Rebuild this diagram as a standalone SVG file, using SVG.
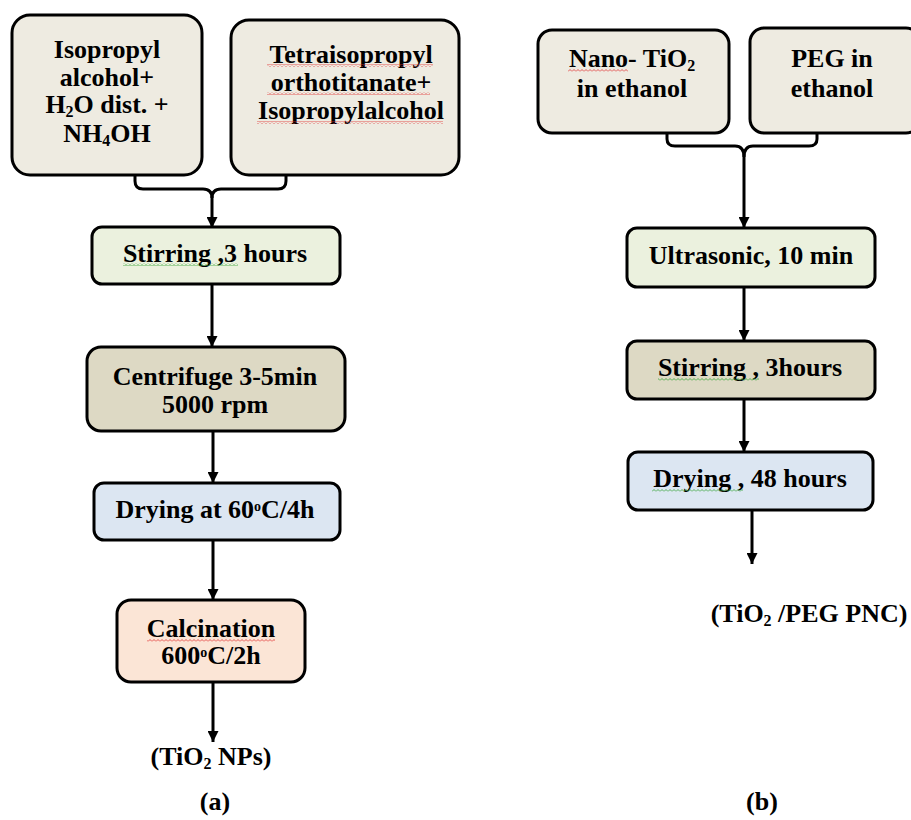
<svg xmlns="http://www.w3.org/2000/svg" width="911" height="820" viewBox="0 0 911 820">
<defs>
<style>
.box{stroke:#000;stroke-width:3}
.src{fill:#eeebe1}
.grn{fill:#ebf1de}
.tan{fill:#ddd9c4}
.blu{fill:#dce6f2}
.pch{fill:#fbe5d6}
text{font-family:"Liberation Serif","Times New Roman",serif;font-weight:bold;font-size:26px;fill:#000;text-anchor:middle}
.sub{font-size:16px}
.sup{font-size:14px}
.con{fill:none;stroke:#000;stroke-width:3}
</style>
<marker id="ah" viewBox="0 0 10 10" refX="10" refY="5" markerWidth="11" markerHeight="11" markerUnits="userSpaceOnUse" orient="auto">
<path d="M0,0 L10,5 L0,10 z" fill="#000"/>
</marker>
<pattern id="wr" width="4" height="3" patternUnits="userSpaceOnUse">
<path d="M0,2.5 L2,0.5 L4,2.5" fill="none" stroke="#e03030" stroke-width="0.8"/>
</pattern>
<pattern id="wg" width="4" height="3" patternUnits="userSpaceOnUse">
<path d="M0,2.5 L2,0.5 L4,2.5" fill="none" stroke="#30a030" stroke-width="0.8"/>
</pattern>
</defs>
<rect width="911" height="820" fill="#fff"/>

<g id="connectors">
<path class="con" d="M135,175 V181 Q135,189 143,189 H203 Q212,189 212,198"/>
<path class="con" d="M286,175 V181 Q286,189 278,189 H221 Q212,189 212,198"/>
<path class="con" d="M212,198 V228" marker-end="url(#ah)"/>
<path class="con" d="M212,284 V347" marker-end="url(#ah)"/>
<path class="con" d="M213,431 V483" marker-end="url(#ah)"/>
<path class="con" d="M213,540 V600" marker-end="url(#ah)"/>
<path class="con" d="M213,682 V742" marker-end="url(#ah)"/>
<path class="con" d="M667,133 V139 Q667,146 675,146 H735 Q744,146 744,157"/>
<path class="con" d="M817,133 V139 Q817,146 809,146 H753 Q744,146 744,157"/>
<path class="con" d="M744,157 V228" marker-end="url(#ah)"/>
<path class="con" d="M744,287 V341" marker-end="url(#ah)"/>
<path class="con" d="M744,399 V452" marker-end="url(#ah)"/>
<path class="con" d="M752,510 V564" marker-end="url(#ah)"/>
</g>

<g id="a-src1">
<rect class="box src" x="12" y="15" width="190" height="160" rx="18"/>
<text x="107" y="58">Isopropyl</text>
<text x="107" y="86">alcohol+</text>
<text x="107" y="113">H<tspan class="sub" dy="4">2</tspan><tspan dy="-4">O dist. +</tspan></text>
<text x="107" y="142">NH<tspan class="sub" dy="4">4</tspan><tspan dy="-4">OH</tspan></text>
</g>

<g id="a-src2">
<rect class="box src" x="231" y="20" width="228" height="155" rx="18"/>
<text x="351" y="63">Tetraisopropyl</text>
<text x="351" y="91">orthotitanate+</text>
<text x="351" y="119">Isopropylalcohol</text>
<rect x="267" y="64" width="166" height="3" fill="url(#wr)"/>
<rect x="267" y="92" width="163" height="3" fill="url(#wr)"/>
<rect x="257" y="121" width="186" height="3" fill="url(#wr)"/>
</g>

<g id="a-stir">
<rect class="box grn" x="92" y="227" width="248" height="57" rx="10"/>
<text x="215" y="262">Stirring ,3 hours</text>
<rect x="123" y="263" width="115" height="3" fill="url(#wg)"/>
</g>

<g id="a-centrifuge">
<rect class="box tan" x="87" y="347" width="258" height="84" rx="14"/>
<text x="215" y="385">Centrifuge 3-5min</text>
<text x="215" y="413">5000 rpm</text>
</g>

<g id="a-drying">
<rect class="box blu" x="94" y="483" width="246" height="57" rx="10"/>
<text x="215" y="518">Drying at 60<tspan class="sup" dy="-7">o</tspan><tspan dy="7">C/4h</tspan></text>
</g>

<g id="a-calc">
<rect class="box pch" x="117" y="600" width="188" height="82" rx="14"/>
<text x="211" y="637">Calcination</text>
<text x="211" y="664">600<tspan class="sup" dy="-7">o</tspan><tspan dy="7">C/2h</tspan></text>
<rect x="147" y="639" width="128" height="3" fill="url(#wr)"/>
</g>

<g id="a-out">
<text x="211" y="765">(TiO<tspan class="sub" dy="4">2</tspan><tspan dy="-4"> NPs)</tspan></text>
<text x="215" y="810">(a)</text>
</g>

<g id="b-src1">
<rect class="box src" x="538" y="30" width="191" height="103" rx="14"/>
<text x="632" y="67">Nano- TiO<tspan class="sub" dy="4">2</tspan></text>
<text x="632" y="97">in ethanol</text>
<rect x="568" y="69" width="60" height="3" fill="url(#wr)"/>
</g>

<g id="b-src2">
<rect class="box src" x="750" y="28" width="170" height="105" rx="14"/>
<text x="832" y="67">PEG in</text>
<text x="832" y="97">ethanol</text>
</g>

<g id="b-ultra">
<rect class="box grn" x="627" y="228" width="248" height="59" rx="10"/>
<text x="751" y="264">Ultrasonic, 10 min</text>
</g>

<g id="b-stir">
<rect class="box tan" x="627" y="341" width="248" height="58" rx="10"/>
<text x="750" y="376">Stirring , 3hours</text>
<rect x="658" y="378" width="101" height="3" fill="url(#wg)"/>
</g>

<g id="b-drying">
<rect class="box blu" x="628" y="452" width="245" height="58" rx="10"/>
<text x="750" y="487">Drying , 48 hours</text>
<rect x="652" y="489" width="91" height="3" fill="url(#wg)"/>
</g>

<g id="b-out">
<text x="809" y="622">(TiO<tspan class="sub" dy="4">2</tspan><tspan dy="-4"> /PEG PNC)</tspan></text>
<text x="762" y="810">(b)</text>
</g>
</svg>
